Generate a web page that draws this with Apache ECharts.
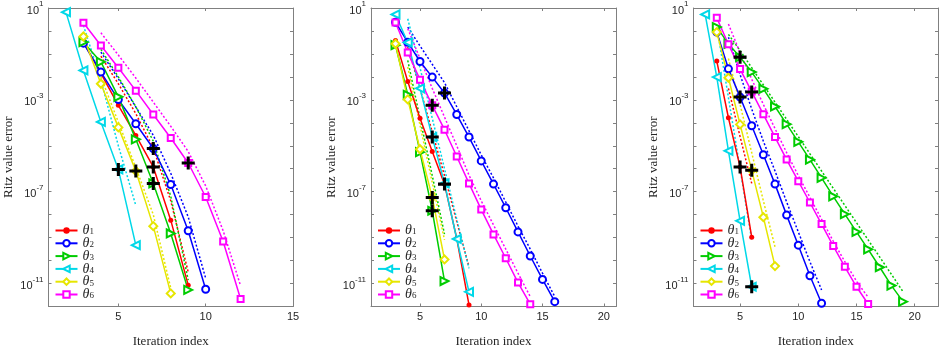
<!DOCTYPE html>
<html>
<head>
<meta charset="utf-8">
<script src="https://cdn.jsdelivr.net/npm/echarts@6/dist/echarts.min.js"></script>
<style>html,body{margin:0;padding:0;background:#fff}#c{width:939px;height:355px}</style>
</head>
<body>
<div id="c"></div>
<script>
// ---- data: log10 of Ritz value error per iteration (series start at given iteration) ----
const THETA = ['θ1','θ2','θ3','θ4','θ5','θ6'];
const COLORS = ['#ff0000','#0000ff','#00cc00','#00d8e8','#e6e600','#ff00ff'];

// Panel 1
const p1_solidStart = [3,3,3,2,3,3];
const p1_theta1 = [-0.49,-1.85,-3.24,-4.55,-5.92,-8.24,-11.07];
const p1_theta2 = [-0.53,-1.79,-2.99,-4.04,-5.12,-6.69,-8.70,-11.25];
const p1_theta3 = [-0.49,-1.35,-2.87,-4.72,-6.64,-8.82,-11.28];
const p1_theta4 = [0.82,-1.72,-3.96,-6.03,-9.33];
const p1_theta5 = [-0.24,-2.30,-4.20,-6.10,-8.50,-11.43];
const p1_theta6 = [0.36,-0.63,-1.60,-2.60,-3.64,-4.66,-5.75,-7.23,-9.17,-11.67];
const p1_dotStart = [4,4,4,3,4,4];
const p1_bound1 = [-1.1,-2.3,-3.6,-5.1,-7.4,-10.5];
const p1_bound2 = [-0.92,-2.08,-3.31,-4.54,-6.2,-8.1,-10.77];
const p1_bound3 = [-0.8,-2.0,-3.3,-4.8,-7.2,-10.85];
const p1_bound4 = [0.24,-2.15,-5.0,-7.6];
const p1_bound5 = [-2.0,-3.97,-5.95,-8.0,-11.2];
const p1_bound6 = [-0.08,-1.05,-2.05,-3.1,-4.15,-5.25,-6.75,-8.7,-11.1];
const p1_plusIter = [5,6,7,7,7,9];
const p1_plusErr = [-6.03,-6.10,-5.12,-5.92,-6.64,-5.75];

// Panel 2
const p2_solidStart = [3,3,3,3,3,3];
const p2_theta1 = [-0.41,-2.2,-3.8,-5.25,-6.67,-9.04,-11.93];
const p2_theta2 = [0.38,-0.49,-1.33,-2.01,-2.70,-3.64,-4.62,-5.66,-6.67,-7.70,-8.75,-9.80,-10.82,-11.79];
const p2_theta3 = [-0.62,-2.78,-5.28,-7.83,-10.89];
const p2_theta4 = [0.72,-0.5,-2.5,-4.62,-6.64,-9.06,-11.36];
const p2_theta5 = [-0.56,-2.98,-5.15,-7.25,-9.95];
const p2_theta6 = [0.37,-0.94,-2.12,-3.24,-4.30,-5.47,-6.64,-7.78,-8.86,-9.90,-10.96,-11.90];
const p2_dotStart = [4,4,4,4,4,4];
const p2_bound1 = [-0.7,-2.5,-4.4,-6.3,-8.3,-10.27];
const p2_bound2 = [0.17,-0.65,-1.45,-2.25,-3.3,-4.35,-5.4,-6.4,-7.45,-8.5,-9.5,-10.55,-11.57];
const p2_bound3 = [-1.28,-3.8,-6.3,-8.85];
const p2_bound4 = [0.53,-1.6,-3.8,-6.0,-8.2,-10.34];
const p2_bound5 = [-1.57,-4.1,-6.6,-9.1];
const p2_bound6 = [0.1,-1.2,-2.5,-3.75,-5.0,-6.28,-7.4,-8.45,-9.5,-10.55,-11.57];
const p2_plusIter = [7,6,6,7,6,6];
const p2_plusErr = [-2.70,-3.24,-4.62,-6.67,-7.25,-7.83];

// Panel 3
const p3_solidStart = [3,3,3,2,3,3];
const p3_theta1 = [-1.31,-3.78,-5.92,-8.98];
const p3_theta2 = [-0.05,-1.65,-2.88,-4.13,-5.39,-6.67,-8.02,-9.33,-10.66,-11.86];
const p3_theta3 = [0.17,-0.56,-1.14,-1.79,-2.52,-3.29,-4.06,-4.83,-5.60,-6.40,-7.20,-7.98,-8.75,-9.51,-10.29,-11.09,-11.79];
const p3_theta4 = [0.72,-2.01,-5.22,-8.27,-11.14];
const p3_theta5 = [-0.05,-2.04,-4.07,-6.07,-8.11,-10.24];
const p3_theta6 = [0.57,-0.58,-1.66,-2.64,-3.63,-4.62,-5.60,-6.54,-7.47,-8.41,-9.36,-10.27,-11.14,-11.89];
const p3_dotStart = [4,4,4,3,4,4];
const p3_bound1 = [-2.5,-4.6,-6.64];
const p3_bound2 = [-0.27,-1.9,-3.4,-4.8,-6.1,-7.45,-8.75,-10.05,-11.28];
const p3_bound3 = [-0.15,-0.85,-1.6,-2.35,-3.1,-3.85,-4.6,-5.35,-6.1,-6.85,-7.6,-8.35,-9.1,-9.85,-10.6,-11.36];
const p3_bound4 = [0.2,-2.9,-6.0,-9.1];
const p3_bound5 = [-1.2,-3.2,-5.3,-7.4,-9.4];
const p3_bound6 = [0.3,-0.95,-2.1,-3.2,-4.25,-5.3,-6.3,-7.25,-8.2,-9.15,-10.05,-10.9,-11.6];
const p3_plusIter = [5,6,5,5,6,6];
const p3_plusErr = [-1.14,-2.66,-2.88,-5.92,-6.07,-11.14];

const X_MAX = [15, 21, 22];
const X_TICKS = [[5,10,15],[5,10,15,20],[5,10,15,20]];
const Y_MIN = -12, Y_MAX = 1;

// ---- layout / style ----
const GRIDS = [
  {left: 48.5, top: 7.5, width: 244.5, height: 299},
  {left: 371, top: 7.5, width: 245, height: 299},
  {left: 693.5, top: 7.5, width: 244.5, height: 299}
];
const PANELS = [
  {start: p1_solidStart, solid: [p1_theta1,p1_theta2,p1_theta3,p1_theta4,p1_theta5,p1_theta6],
   dstart: p1_dotStart, dotted: [p1_bound1,p1_bound2,p1_bound3,p1_bound4,p1_bound5,p1_bound6],
   px: p1_plusIter, py: p1_plusErr},
  {start: p2_solidStart, solid: [p2_theta1,p2_theta2,p2_theta3,p2_theta4,p2_theta5,p2_theta6],
   dstart: p2_dotStart, dotted: [p2_bound1,p2_bound2,p2_bound3,p2_bound4,p2_bound5,p2_bound6],
   px: p2_plusIter, py: p2_plusErr},
  {start: p3_solidStart, solid: [p3_theta1,p3_theta2,p3_theta3,p3_theta4,p3_theta5,p3_theta6],
   dstart: p3_dotStart, dotted: [p3_bound1,p3_bound2,p3_bound3,p3_bound4,p3_bound5,p3_bound6],
   px: p3_plusIter, py: p3_plusErr}
];
const SYMBOLS = [
  {symbol: 'circle', size: 5, rotate: 0},
  {symbol: 'emptyCircle', size: 7, rotate: 0},
  {symbol: 'emptyTriangle', size: 8, rotate: -90},
  {symbol: 'emptyTriangle', size: 8, rotate: 90},
  {symbol: 'emptyDiamond', size: 8, rotate: 0},
  {symbol: 'emptyRect', size: 6, rotate: 0}
];
const PLUS = 'path://M-1.4,-6L1.4,-6L1.4,-1.4L6,-1.4L6,1.4L1.4,1.4L1.4,6L-1.4,6L-1.4,1.4L-6,1.4L-6,-1.4L-1.4,-1.4Z';
const AXIS_COLOR = '#808080';
const TXT = '#262626';

const grid = [], xAxis = [], yAxis = [], series = [], legend = [];
PANELS.forEach((p, i) => {
  grid.push(Object.assign({containLabel: false}, GRIDS[i]));
  const xBase = {type: 'value', gridIndex: i, min: 1, max: X_MAX[i],
    splitLine: {show: false},
    axisLine: {show: true, onZero: false, lineStyle: {color: AXIS_COLOR, width: 1}},
    axisTick: {show: true, inside: true, length: 3, customValues: X_TICKS[i], lineStyle: {color: AXIS_COLOR}}};
  xAxis.push(Object.assign({}, xBase, {position: 'bottom',
    name: 'Iteration index', nameLocation: 'middle', nameGap: 29,
    nameTextStyle: {fontFamily: 'Liberation Serif', fontSize: 13, color: TXT},
    axisLabel: {show: true, customValues: X_TICKS[i], margin: 5, fontFamily: 'Liberation Sans', fontSize: 11, color: TXT}}));
  xAxis.push(Object.assign({}, xBase, {position: 'top', axisLabel: {show: false}}));
  const yBase = {type: 'value', gridIndex: i, min: Y_MIN, max: Y_MAX, interval: 1,
    splitLine: {show: false},
    axisLine: {show: true, onZero: false, lineStyle: {color: AXIS_COLOR, width: 1}},
    axisTick: {show: true, inside: true, length: 3, lineStyle: {color: AXIS_COLOR}}};
  yAxis.push(Object.assign({}, yBase, {position: 'left',
    name: 'Ritz value error', nameLocation: 'middle', nameGap: 33,
    nameTextStyle: {fontFamily: 'Liberation Serif', fontSize: 13, color: TXT},
    axisLabel: {show: true, margin: 5, color: TXT,
      formatter: v => { const n = Math.round(v); return ((n + 11) % 4 === 0) ? '{b|10}{s|' + n + '}' : ''; },
      rich: {b: {fontFamily: 'Liberation Sans', fontSize: 11, color: TXT, verticalAlign: 'bottom', lineHeight: 16},
             s: {fontFamily: 'Liberation Sans', fontSize: 8, color: TXT, verticalAlign: 'top', lineHeight: 16}}}}));
  yAxis.push(Object.assign({}, yBase, {position: 'right', axisLabel: {show: false}}));

  p.solid.forEach((vals, k) => {
    series.push({type: 'line', name: THETA[k], xAxisIndex: 2*i, yAxisIndex: 2*i,
      data: vals.map((v, j) => [p.start[k] + j, v]),
      symbol: SYMBOLS[k].symbol, symbolSize: SYMBOLS[k].size, symbolRotate: SYMBOLS[k].rotate,
      showAllSymbol: true, connectNulls: true,
      lineStyle: {color: COLORS[k], width: 1.5}, itemStyle: {color: COLORS[k], borderWidth: 1.2},
      z: 3, silent: true});
  });
  p.dotted.forEach((vals, k) => {
    series.push({type: 'line', name: 'bound' + (k+1), xAxisIndex: 2*i, yAxisIndex: 2*i,
      data: vals.map((v, j) => [p.dstart[k] + j, v]),
      symbol: 'none', lineStyle: {color: COLORS[k], width: 1.5, type: [2, 2]}, z: 2, silent: true});
  });
  series.push({type: 'scatter', name: 'stop', xAxisIndex: 2*i, yAxisIndex: 2*i,
    data: p.px.map((x, j) => [x, p.py[j]]), symbol: PLUS, symbolSize: 13,
    itemStyle: {color: '#000000', opacity: 1, borderWidth: 0}, z: 5, silent: true});

  legend.push({show: true, data: THETA, orient: 'vertical',
    left: GRIDS[i].left + 6, top: 223.5, itemWidth: 22, itemHeight: 8, itemGap: -1.2,
    padding: 0, selectedMode: false,
    formatter: name => '{t|θ}{s|' + name.slice(1) + '}',
    textStyle: {lineHeight: 12, rich: {
      t: {fontFamily: 'Liberation Serif', fontStyle: 'italic', fontSize: 14, color: TXT, lineHeight: 12},
      s: {fontFamily: 'Liberation Serif', fontSize: 9, color: TXT, verticalAlign: 'bottom', lineHeight: 6}}}});
});

const chart = echarts.init(document.getElementById('c'), null, {renderer: 'canvas'});
chart.setOption({animation: false, backgroundColor: '#fff', grid, xAxis, yAxis, series, legend});
</script>
</body>
</html>
